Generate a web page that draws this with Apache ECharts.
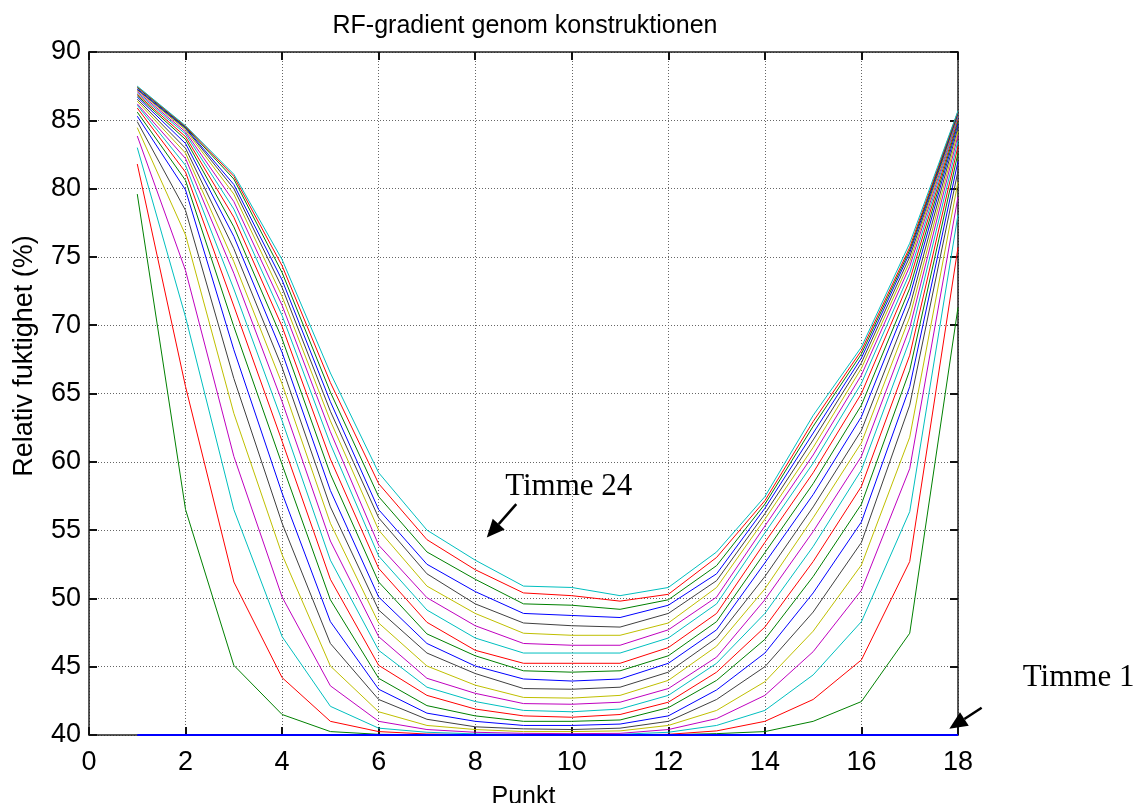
<!DOCTYPE html>
<html>
<head>
<meta charset="utf-8">
<script src="https://cdn.jsdelivr.net/npm/echarts@6/dist/echarts.min.js"></script>
<style>
  html, body { margin: 0; padding: 0; background: #fff; }
  #chart { width: 1138px; height: 803px; }
</style>
</head>
<body>
<div id="chart"></div>
<script>
// Mätpunkter genom konstruktionen
const punkt = [1, 2, 3, 4, 5, 6, 7, 8, 9, 10, 11, 12, 13, 14, 15, 16, 17, 18];

// Relativ fuktighet (%) per timme, en lista per timme
const timme1  = [40, 40, 40, 40, 40, 40, 40, 40, 40, 40, 40, 40, 40, 40, 40, 40, 40, 40];
const timme2  = [79.6, 56.5, 45.1, 41.5, 40.25, 40.05, 40.02, 40.0, 40.0, 40.0, 40.0, 40.02, 40.1, 40.25, 41.0, 42.45, 47.45, 71.3];
const timme3  = [81.8, 65.5, 51.2, 44.2, 41.0, 40.25, 40.07, 40.03, 40.02, 40.02, 40.02, 40.05, 40.3, 41.0, 42.6, 45.5, 52.7, 75.7];
const timme4  = [83.0, 70.6, 56.5, 47.2, 42.1, 40.5, 40.2, 40.08, 40.05, 40.05, 40.05, 40.2, 40.7, 41.8, 44.4, 48.3, 56.35, 78.1];
const timme5  = [83.85, 74.0, 60.4, 50.1, 43.6, 41.0, 40.4, 40.2, 40.12, 40.1, 40.12, 40.4, 41.2, 42.9, 46.1, 50.6, 59.5, 79.4];
const timme6  = [84.46, 76.6, 63.55, 53.2, 45.05, 41.7, 40.7, 40.4, 40.25, 40.25, 40.3, 40.7, 41.8, 43.9, 47.6, 52.45, 61.8, 80.5];
const timme7  = [84.9, 78.4, 66.1, 55.5, 46.7, 42.6, 41.15, 40.6, 40.45, 40.4, 40.5, 41.0, 42.6, 45.0, 49.0, 54.1, 64.15, 81.3];
const timme8  = [85.3, 79.9, 68.2, 57.7, 48.3, 43.35, 41.6, 41.0, 40.7, 40.7, 40.8, 41.4, 43.3, 46.0, 50.4, 55.6, 65.5, 82.0];
const timme9  = [85.6, 80.6, 69.9, 59.8, 49.9, 44.15, 42.15, 41.4, 41.0, 41.0, 41.1, 42.0, 44.0, 47.0, 51.6, 56.9, 66.7, 82.6];
const timme10 = [85.9, 81.2, 71.4, 61.5, 51.4, 45.1, 42.9, 41.9, 41.4, 41.3, 41.5, 42.4, 44.6, 47.9, 52.7, 58.2, 67.8, 83.1];
const timme11 = [86.1, 81.7, 72.65, 63.0, 52.8, 46.2, 43.5, 42.45, 41.8, 41.7, 41.9, 42.9, 45.25, 48.9, 53.8, 59.4, 68.9, 83.5];
const timme12 = [86.2, 82.2, 73.8, 64.4, 54.2, 47.2, 44.15, 43.05, 42.3, 42.25, 42.4, 43.4, 45.7, 49.9, 54.9, 60.4, 69.8, 83.9];
const timme13 = [86.4, 82.6, 74.65, 65.7, 55.5, 48.2, 45.05, 43.65, 42.75, 42.7, 42.9, 44.0, 46.5, 50.7, 55.9, 61.4, 70.6, 84.2];
const timme14 = [86.55, 82.95, 75.6, 66.9, 56.7, 49.15, 46.0, 44.5, 43.4, 43.35, 43.5, 44.6, 47.1, 51.6, 56.7, 62.3, 71.35, 84.5];
const timme15 = [86.7, 83.3, 76.5, 68.0, 57.9, 50.1, 46.7, 45.05, 44.1, 43.95, 44.1, 45.25, 47.7, 52.6, 57.6, 63.3, 72.1, 84.75];
const timme16 = [86.8, 83.6, 77.2, 69.0, 59.1, 51.2, 47.4, 45.8, 44.7, 44.6, 44.7, 45.8, 48.3, 53.35, 58.4, 64.15, 72.7, 84.95];
const timme17 = [86.9, 83.8, 77.9, 69.9, 60.2, 52.2, 48.25, 46.2, 45.25, 45.25, 45.25, 46.4, 48.9, 54.1, 59.2, 65.0, 73.3, 85.1];
const timme18 = [87.0, 84.0, 78.5, 70.7, 61.3, 53.1, 49.15, 47.1, 46.0, 46.0, 46.0, 47.1, 49.6, 54.8, 59.9, 65.75, 73.8, 85.25];
const timme19 = [87.1, 84.15, 79.05, 71.45, 62.2, 53.9, 50.05, 48.0, 46.7, 46.57, 46.57, 47.7, 50.1, 55.3, 60.5, 66.35, 74.3, 85.35];
const timme20 = [87.2, 84.3, 79.6, 72.1, 63.0, 55.0, 50.9, 48.9, 47.45, 47.3, 47.3, 48.2, 50.8, 55.8, 61.05, 66.85, 74.65, 85.45];
const timme21 = [87.25, 84.4, 80.0, 72.75, 63.7, 55.9, 51.8, 49.6, 48.2, 48.0, 47.9, 48.9, 51.3, 56.2, 61.6, 67.25, 75.0, 85.5];
const timme22 = [87.3, 84.45, 80.3, 73.3, 64.4, 56.5, 52.5, 50.5, 48.9, 48.75, 48.6, 49.5, 51.8, 56.6, 62.1, 67.6, 75.3, 85.55];
const timme23 = [87.4, 84.5, 80.7, 73.85, 65.1, 57.45, 53.4, 51.4, 49.6, 49.5, 49.2, 49.9, 52.4, 56.9, 62.6, 67.9, 75.5, 85.6];
const timme24 = [87.45, 84.55, 80.9, 74.35, 65.8, 58.4, 54.3, 52.1, 50.4, 50.2, 49.8, 50.3, 53.0, 57.15, 62.95, 68.15, 75.7, 85.65];
const timme25 = [87.5, 84.6, 81.05, 74.8, 66.5, 59.2, 55.0, 52.8, 50.9, 50.8, 50.2, 50.8, 53.4, 57.45, 63.4, 68.4, 76.0, 85.7];

const timmar = [timme1, timme2, timme3, timme4, timme5, timme6, timme7, timme8, timme9,
  timme10, timme11, timme12, timme13, timme14, timme15, timme16, timme17, timme18,
  timme19, timme20, timme21, timme22, timme23, timme24, timme25];

// Axelgränser och tickar
const xTicks = { min: 0, max: 18, interval: 2 };
const yTicks = { min: 40, max: 90, interval: 5 };

// Klassisk färgcykel: blå, grön, röd, cyan, magenta, gul, mörkgrå
const farger = ['#0000ff', '#008000', '#ff0000', '#00bfbf', '#bf00bf', '#bfbf00', '#404040'];

const chart = echarts.init(document.getElementById('chart'), null, { renderer: 'canvas' });

const FONT = 'Liberation Sans, Arial, Helvetica, sans-serif';
const gridStyle = { show: true, lineStyle: { color: '#666', type: [1, 2], width: 1 } };
const axisLine = { show: true, onZero: false, lineStyle: { color: '#222', width: 1.5 } };
const tickIn = { show: true, inside: true, length: 8, lineStyle: { color: '#111', width: 2 } };

const series = timmar.map((vals, i) => ({
  name: 'Timme ' + (i + 1),
  type: 'line',
  data: punkt.map((p, k) => [p, vals[k]]),
  showSymbol: false,
  symbol: 'none',
  lineStyle: { width: i === 0 ? 2 : 1, color: farger[i % farger.length] },
  z: i === 0 ? 30 : 10 + i,
  animation: false,
  silent: true
}));

chart.setOption({
  animation: false,
  backgroundColor: '#ffffff',
  title: {
    text: 'RF-gradient genom konstruktionen',
    left: 520, textAlign: 'center', top: 9,
    textStyle: { fontFamily: FONT, fontSize: 25, fontWeight: 'normal', color: '#000' }
  },
  grid: { left: 89, right: 180, top: 52, bottom: 68, containLabel: false, outerBoundsMode: 'none' },
  xAxis: [
    {
      type: 'value', position: 'bottom', min: xTicks.min, max: xTicks.max, interval: xTicks.interval,
      name: 'Punkt', nameLocation: 'middle', nameGap: 50,
      nameTextStyle: { fontFamily: FONT, fontSize: 25, color: '#000' },
      axisLine, axisTick: tickIn, splitLine: gridStyle,
      axisLabel: { fontFamily: FONT, fontSize: 27, color: '#000', margin: 14 }
    },
    {
      type: 'value', position: 'top', min: xTicks.min, max: xTicks.max, interval: xTicks.interval,
      axisLine, axisTick: tickIn, splitLine: { show: false }, axisLabel: { show: false }
    }
  ],
  yAxis: [
    {
      type: 'value', position: 'left', min: yTicks.min, max: yTicks.max, interval: yTicks.interval,
      axisLine, axisTick: tickIn, splitLine: gridStyle,
      axisLabel: { fontFamily: FONT, fontSize: 27, color: '#000', margin: 8 }
    },
    {
      type: 'value', position: 'right', min: yTicks.min, max: yTicks.max, interval: yTicks.interval,
      axisLine, axisTick: tickIn, splitLine: { show: false }, axisLabel: { show: false }
    }
  ],
  series
});

// Pilar och etiketter placerade i datakoordinater
function arrow(from, to) {
  const a = chart.convertToPixel({ xAxisIndex: 0, yAxisIndex: 0 }, from);
  const b = chart.convertToPixel({ xAxisIndex: 0, yAxisIndex: 0 }, to);
  const ang = Math.atan2(b[1] - a[1], b[0] - a[0]);
  const L = 18, W = 8;
  const bx = b[0] - L * Math.cos(ang), by = b[1] - L * Math.sin(ang);
  const nx = -Math.sin(ang) * W, ny = Math.cos(ang) * W;
  return [
    { type: 'line', shape: { x1: a[0], y1: a[1], x2: bx, y2: by }, style: { stroke: '#000', lineWidth: 2.5 }, z: 100 },
    { type: 'polygon', shape: { points: [[b[0], b[1]], [bx + nx, by + ny], [bx - nx, by - ny]] }, style: { fill: '#000' }, z: 100 }
  ];
}
function label(txt, at) {
  const p = chart.convertToPixel({ xAxisIndex: 0, yAxisIndex: 0 }, at);
  return { type: 'text', x: p[0], y: p[1], style: { text: txt, font: '31px "Liberation Serif", "Times New Roman", serif', fill: '#000', textVerticalAlign: 'middle' }, z: 100 };
}

chart.setOption({
  graphic: [
    // y-axelns rubrik, roterad
    { type: 'text', x: 25, y: 356, rotation: Math.PI / 2,
      style: { text: 'Relativ fuktighet (%)', font: '27px "Liberation Sans", Arial, sans-serif', fill: '#000', textAlign: 'center', textVerticalAlign: 'middle' } },
    ...arrow([8.85, 56.9], [8.24, 54.45]),
    label('Timme 24', [8.62, 58.2]),
    ...arrow([18.49, 42.0], [17.82, 40.45]),
    label('Timme 1', [19.34, 44.15])
  ]
});
</script>
</body>
</html>
